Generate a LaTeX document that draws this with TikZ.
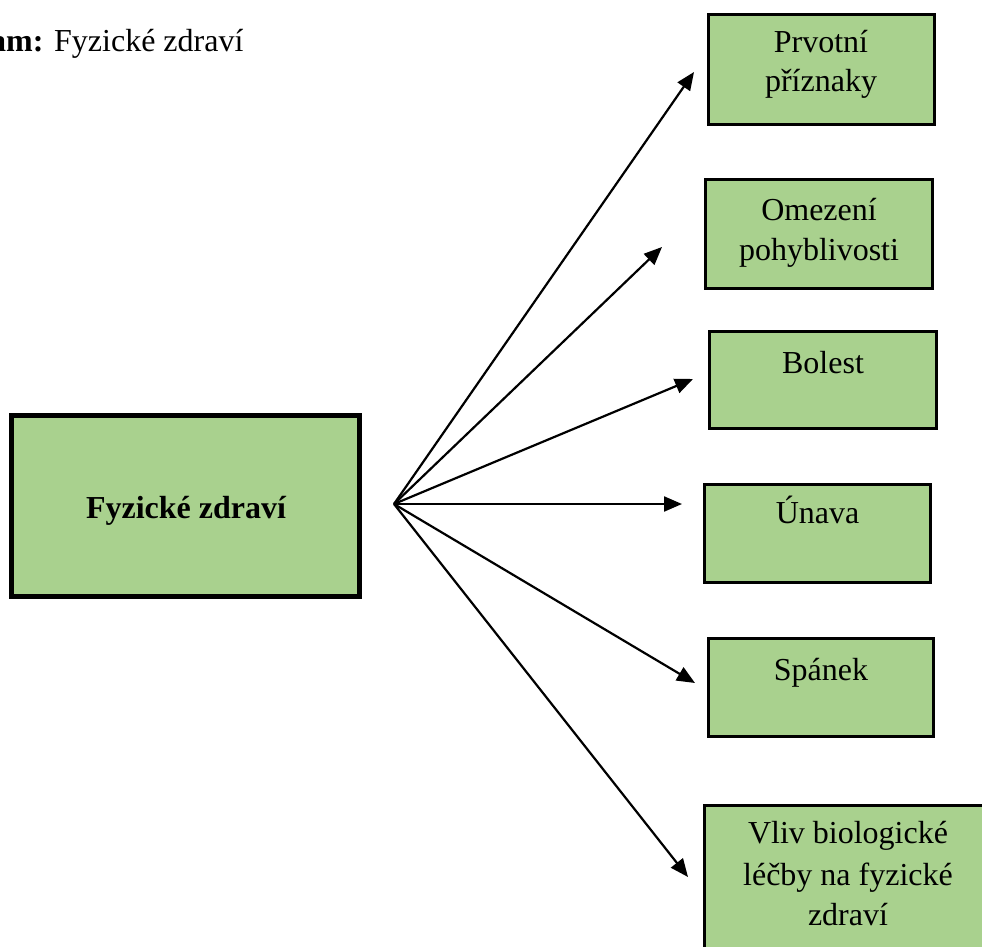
\documentclass[tikz,border=0pt]{standalone}
\usepackage{fontspec}
\setmainfont{Liberation Serif}
\usetikzlibrary{arrows.meta}
\definecolor{boxgreen}{HTML}{A9D18E}
\begin{document}
\begin{tikzpicture}[x=1pt,y=-1pt,
  box/.style={draw=black, fill=boxgreen, line width=3.3pt, inner sep=0pt, outer sep=0pt, rectangle},
  mainbox/.style={draw=black, fill=boxgreen, line width=5pt, inner sep=0pt, outer sep=0pt, rectangle},
  lbl/.style={anchor=base, inner sep=0pt, font=\fontsize{32}{38}\selectfont},
  conn/.style={line width=2.2pt, -{Triangle[length=18pt,width=15pt]}}]
\useasboundingbox (0,0) rectangle (982,947);
\clip (0,0) rectangle (982,947);

% caption
\node[anchor=base west, inner sep=0pt, font=\fontsize{32}{38}\selectfont] (cap) at (-10,52) {\textbf{am:} Fyzické zdraví};

% main box
\node[mainbox, minimum width=348pt, minimum height=181pt] (main) at (185.5,506) {};
\node[lbl, font=\fontsize{32}{38}\selectfont\bfseries] (mainl) at (186,518) {Fyzické zdraví};

% right boxes
\node[box, minimum width=226pt, minimum height=110pt] (b1) at (821.5,69.5) {};
\node[lbl] (b1a) at (821,53) {Prvotní};
\node[lbl] (b1b) at (821,92) {příznaky};

\node[box, minimum width=227pt, minimum height=109pt] (b2) at (819,234) {};
\node[lbl] (b2a) at (819,220) {Omezení};
\node[lbl] (b2b) at (819,260) {pohyblivosti};

\node[box, minimum width=227pt, minimum height=97pt] (b3) at (823,380) {};
\node[lbl] (b3a) at (823,373) {Bolest};

\node[box, minimum width=226pt, minimum height=98pt] (b4) at (817.5,533.5) {};
\node[lbl] (b4a) at (817.5,523) {Únava};

\node[box, minimum width=225pt, minimum height=98pt] (b5) at (821,687.5) {};
\node[lbl] (b5a) at (821,680) {Spánek};

\node[box, minimum width=287pt, minimum height=183pt] (b6) at (848,897) {};
\node[lbl] (b6a) at (848,843) {Vliv biologické};
\node[lbl] (b6b) at (848,885) {léčby na fyzické};
\node[lbl] (b6c) at (848,925) {zdraví};

% fan
\coordinate (o) at (394,504);
\coordinate (t1) at (694,72);
\coordinate (t2) at (662,247);
\coordinate (t3) at (693,379);
\coordinate (t4) at (682,504);
\coordinate (t5) at (695,683);
\coordinate (t6) at (688,877);
\foreach \t in {t1,t2,t3,t4,t5,t6} \draw[conn] (o) -- (\t);
\end{tikzpicture}
\end{document}
